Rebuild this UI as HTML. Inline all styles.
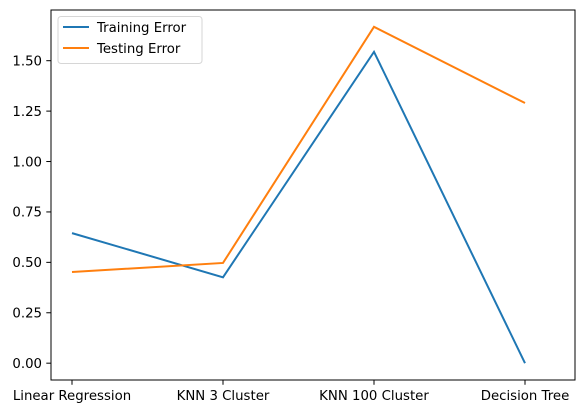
<!DOCTYPE html>
<html><head><meta charset="utf-8"><style>
body{margin:0;background:#fff;}
svg text{font-family:"DejaVu Sans","Liberation Sans",sans-serif;font-size:13.3px;fill:#000;}
</style></head><body>
<svg id="chart" width="580" height="413"></svg>
<script>
const categories=["Linear Regression","KNN 3 Cluster","KNN 100 Cluster","Decision Tree"];
const trainingError=[0.645,0.426,1.544,0.0];
const testingError=[0.452,0.497,1.668,1.29];
const yTicks=[0,0.25,0.5,0.75,1.0,1.25,1.5];
const yTickLabels=["0.00","0.25","0.50","0.75","1.00","1.25","1.50"];
const NS="http://www.w3.org/2000/svg";
const svg=document.getElementById('chart');
const L=51,R=575,T=10,B=380;
const yMin=-0.0834,yMax=1.7514;
const x0=72,x1=525;
function xs(i){return x0+(x1-x0)*i/(categories.length-1);}
function ys(v){return B-(v-yMin)/(yMax-yMin)*(B-T);}
function el(t,a,p){const e=document.createElementNS(NS,t);for(const k in a)e.setAttribute(k,a[k]);(p||svg).appendChild(e);return e;}
categories.forEach((c,i)=>{
 const g=el('g',{});
 
 
 el('line',{x1:xs(i),x2:xs(i),y1:B,y2:B+4.7,stroke:'#000','stroke-width':1},g);
 const t=el('text',{x:xs(i),y:B+20,'text-anchor':'middle'},g);t.textContent=c;
});
yTicks.forEach((v,i)=>{
 const g=el('g',{});
 
 
 el('line',{x1:L-4.7,x2:L,y1:ys(v),y2:ys(v),stroke:'#000','stroke-width':1},g);
 const t=el('text',{x:L-9,y:ys(v)+4.8,'text-anchor':'end'},g);t.textContent=yTickLabels[i];
});
function series(vals,color,name){
 const p=el('polyline',{points:vals.map((v,i)=>xs(i)+','+ys(v)).join(' '),fill:'none',stroke:color,'stroke-width':2});
 
 
}
series(trainingError,'#1f77b4','training-error-line');
series(testingError,'#ff7f0e','testing-error-line');
const frame=el('rect',{x:L,y:T,width:R-L,height:B-T,fill:'none',stroke:'#000','stroke-width':1});


const lg=el('g',{});


el('rect',{x:58,y:16.5,width:144,height:47,rx:3,fill:'#fff',stroke:'#ccc','stroke-width':1,opacity:0.8},lg);
[['Training Error','#1f77b4'],['Testing Error','#ff7f0e']].forEach((d,i)=>{
 const y=27+i*21;
 const g=el('g',{},lg);
 
 
 el('line',{x1:63,x2:89,y1:y,y2:y,stroke:d[1],'stroke-width':2},g);
 const t=el('text',{x:97,y:y+4.8},g);t.textContent=d[0];
});
</script>
</body></html>
